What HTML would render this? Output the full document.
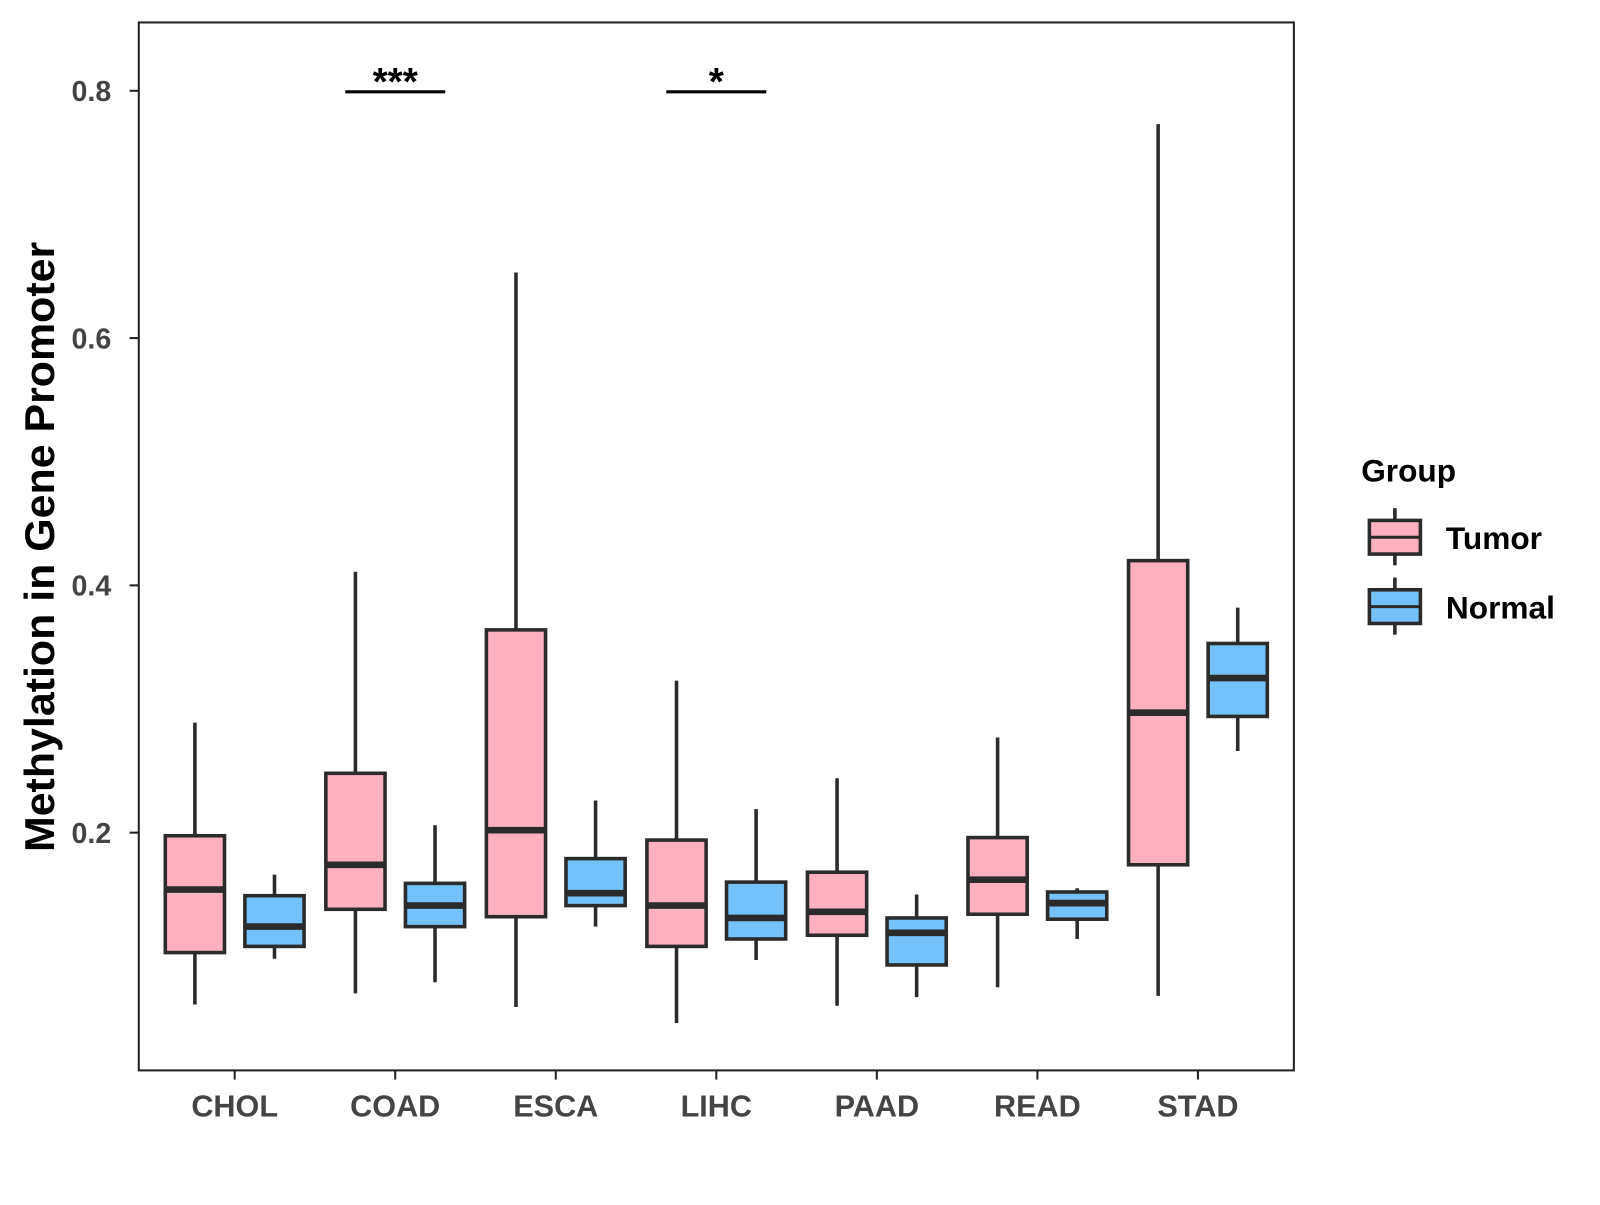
<!DOCTYPE html>
<html><head><meta charset="utf-8"><style>
body{margin:0;background:#fff}
svg text{font-family:"Liberation Sans",Arial,sans-serif;font-weight:bold}
</style></head><body>
<svg width="1600" height="1200" viewBox="0 0 1600 1200" xmlns="http://www.w3.org/2000/svg">
<rect x="0" y="0" width="1600" height="1200" fill="#fff"/>
<g id="chart" transform="scale(1.0204)">
<g id="plot"></g>
<rect x="136" y="22" width="1132" height="1027" fill="none" stroke="#222" stroke-width="2"/>
<text x="53" y="536" font-size="41" fill="#000" text-anchor="middle" textLength="598" lengthAdjust="spacingAndGlyphs" transform="rotate(-90 53 536)">Methylation in Gene Promoter</text>
<g>
<text x="1334" y="472" font-size="31" fill="#000">Group</text>
<g>
<line x1="1367" y1="498" x2="1367" y2="554" stroke="#2b2b2b" stroke-width="3.5"/>
<rect x="1342" y="510" width="50" height="33" fill="#FDB0C0" stroke="#2b2b2b" stroke-width="3.5"/>
<line x1="1342" y1="526.5" x2="1392" y2="526.5" stroke="#2b2b2b" stroke-width="3"/>
<text x="1417" y="538" font-size="31" fill="#000">Tumor</text></g>
<g>
<line x1="1367" y1="566" x2="1367" y2="622" stroke="#2b2b2b" stroke-width="3.5"/>
<rect x="1342" y="578" width="50" height="33" fill="#75C1F9" stroke="#2b2b2b" stroke-width="3.5"/>
<line x1="1342" y1="594.5" x2="1392" y2="594.5" stroke="#2b2b2b" stroke-width="3"/>
<text x="1417" y="606" font-size="31" fill="#000">Normal</text></g>
</g>
</g>
</svg>
<script>
const categories=["CHOL","COAD","ESCA","LIHC","PAAD","READ","STAD"];
const tumorLow=[0.061,0.070,0.059,0.046,0.060,0.075,0.068];
const tumorQ1=[0.103,0.138,0.132,0.108,0.117,0.134,0.174];
const tumorMed=[0.154,0.174,0.202,0.141,0.136,0.162,0.297];
const tumorQ3=[0.1975,0.248,0.364,0.194,0.168,0.196,0.420];
const tumorHigh=[0.289,0.411,0.653,0.323,0.244,0.277,0.773];
const normalLow=[0.098,0.079,0.124,0.097,0.067,0.114,0.266];
const normalQ1=[0.108,0.124,0.141,0.114,0.093,0.130,0.294];
const normalMed=[0.124,0.141,0.151,0.131,0.119,0.143,0.325];
const normalQ3=[0.149,0.159,0.179,0.160,0.131,0.152,0.353];
const normalHigh=[0.166,0.206,0.226,0.219,0.150,0.155,0.382];
const yTicks=[0.2,0.4,0.6,0.8];
const yTickLabels=["0.2","0.4","0.6","0.8"];
const sigCategories=["COAD","LIHC"];
const sigLabels=["***","*"];
const sigLevel=0.8;

const NS="http://www.w3.org/2000/svg";
const svg=document.getElementById('chart');
const plot=document.getElementById('plot');
function y(v){return 816-(v-0.2)*1211.7;}
function x(i){return 230+i*157.33;}
function mk(tag,attrs,parent){const e=document.createElementNS(NS,tag);for(const k in attrs)e.setAttribute(k,attrs[k]);(parent||plot).appendChild(e);return e;}
const stroke="#2b2b2b";
function box(cx,lo,q1,md,q3,hi,fill,name){
  const g=mk('g',{});
  
  
  mk('line',{x1:cx,x2:cx,y1:y(hi),y2:y(lo),stroke:stroke,'stroke-width':3.5},g);
  mk('rect',{x:cx-29,y:y(q3),width:58,height:y(q1)-y(q3),fill:fill,stroke:stroke,'stroke-width':3.5},g);
  mk('line',{x1:cx-29,x2:cx+29,y1:y(md),y2:y(md),stroke:stroke,'stroke-width':6.5},g);
}
categories.forEach((c,i)=>{
  box(x(i)-39,tumorLow[i],tumorQ1[i],tumorMed[i],tumorQ3[i],tumorHigh[i],"#FDB0C0","box-tumor-"+c.toLowerCase());
  box(x(i)+39,normalLow[i],normalQ1[i],normalMed[i],normalQ3[i],normalHigh[i],"#75C1F9","box-normal-"+c.toLowerCase());
  const t=mk('line',{x1:x(i),x2:x(i),y1:1049,y2:1058,stroke:"#222",'stroke-width':2},svg);
  
  
  const l=mk('text',{x:x(i),y:1094,'font-size':30,fill:"#444",'text-anchor':'middle'},svg);
  l.textContent=c;
  
  
});
yTicks.forEach((v,i)=>{
  const t=mk('line',{x1:127,x2:136,y1:y(v),y2:y(v),stroke:"#222",'stroke-width':2},svg);
  
  
  const l=mk('text',{x:109,y:y(v)+10,'font-size':28,fill:"#444",'text-anchor':'end'},svg);
  l.textContent=yTickLabels[i];
  
  
});
sigCategories.forEach((c,j)=>{
  const i=categories.indexOf(c);
  const b=mk('line',{x1:x(i)-49,x2:x(i)+49,y1:y(sigLevel)+1,y2:y(sigLevel)+1,stroke:"#000",'stroke-width':3});
  
  
  const s=mk('text',{x:x(i),y:y(sigLevel)+4,'font-size':38,fill:"#000",'text-anchor':'middle'});
  s.textContent=sigLabels[j];
  
  
});
</script>
</body></html>
